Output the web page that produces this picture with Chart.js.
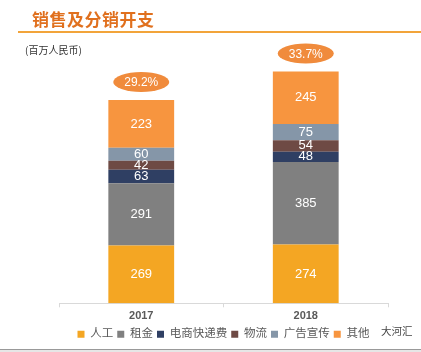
<!DOCTYPE html>
<html>
<head>
<meta charset="utf-8">
<script src="https://cdn.jsdelivr.net/npm/chart.js@4"></script>
<style>
    html, body { margin: 0; padding: 0; background: #fff; }
    #wrap { position: relative; width: 421px; height: 352px; overflow: hidden;
            font-family: "Liberation Sans", Arial, "Noto Sans CJK SC", sans-serif; }
    #titulo { position: absolute; left: 32px; top: 6px; font-size: 17px; font-weight: bold;
              color: #E0701E; font-family: "Noto Sans CJK SC", sans-serif; letter-spacing: 0.5px; }
    #linha { position: absolute; left: 18px; right: 0; top: 31px; height: 2px; background: #F2A43A; }
    #unidade { position: absolute; left: 25px; top: 42px; font-size: 10px; color: #333;
               font-family: "Noto Sans CJK SC", sans-serif; }
    #marca { position: absolute; left: 381px; top: 323px; font-size: 10.5px; color: #444;
             font-family: "Noto Sans CJK SC", sans-serif; }
    #rodape { position: absolute; left: 0; right: 0; top: 349px; height: 3px;
              background: #e6e6e6; border-top: 1px solid #999; }
    canvas { position: absolute; left: 0; top: 0; }
</style>
</head>
<body>
<div id="wrap">
    <canvas id="grafico" width="421" height="352"></canvas>
    <div id="titulo">销售及分销开支</div>
    <div id="linha"></div>
    <div id="unidade">(百万人民币)</div>
    <div id="marca">大河汇</div>
    <div id="rodape"></div>
</div>
<script>
// ===================== DADOS =====================
const anos        = ["2017", "2018"];
const series      = ["人工", "租金", "电商快递费", "物流", "广告宣传", "其他"];
const valRenGong  = [269, 274];
const valZuJin    = [291, 385];
const valKuaiDi   = [63, 48];
const valWuLiu    = [42, 54];
const valGuangGao = [60, 75];
const valQiTa     = [223, 245];
const percentuais = ["29.2%", "33.7%"];

// ===================== CORES =====================
const CORES = ["#F4A623", "#808080", "#2F3F63", "#6E4A44", "#8596A8", "#F7953F"];
const COR_ELIPSE = "#F08B3C";
const FONTE = "'Liberation Sans', Arial, 'Noto Sans CJK SC', sans-serif";

const valores = [valRenGong, valZuJin, valKuaiDi, valWuLiu, valGuangGao, valQiTa];

// rótulos brancos no meio de cada segmento
const rotulos = {
    id: "rotulos",
    afterDatasetsDraw(chart) {
        const ctx = chart.ctx;
        ctx.save();
        ctx.fillStyle = "#fff";
        ctx.font = "13px " + FONTE;
        ctx.textAlign = "center";
        ctx.textBaseline = "middle";
        chart.data.datasets.forEach((ds, i) => {
            chart.getDatasetMeta(i).data.forEach((bar, j) => {
                ctx.fillText(ds.data[j], bar.x, (bar.y + bar.base) / 2);
            });
        });

        // elipse com percentual acima da pilha
        const ultimo = chart.getDatasetMeta(chart.data.datasets.length - 1);
        ultimo.data.forEach((bar, j) => {
            const cy = bar.y - 18;
            ctx.beginPath();
            ctx.ellipse(bar.x, cy, 28, 10, 0, 0, Math.PI * 2);
            ctx.fillStyle = COR_ELIPSE;
            ctx.fill();
            ctx.fillStyle = "#fff";
            ctx.font = "12px " + FONTE;
            ctx.fillText(percentuais[j], bar.x, cy + 1);
        });
        ctx.restore();
    }
};

new Chart(document.getElementById("grafico"), {
    type: "bar",
    data: {
        labels: anos,
        datasets: series.map((nome, i) => ({
            label: nome,
            data: valores[i],
            backgroundColor: CORES[i],
            borderWidth: 0,
            categoryPercentage: 0.4,
            barPercentage: 1,
        })),
    },
    options: {
        responsive: false,
        animation: false,
        layout: { padding: { top: 46, left: 59, right: 33, bottom: 2 } },
        plugins: {
            legend: {
                position: "bottom",
                labels: {
                    boxWidth: 7, boxHeight: 7, padding: 4,
                    color: "#595959",
                    font: { size: 11.5, family: FONTE },
                },
            },
            tooltip: { enabled: false },
        },
        scales: {
            x: {
                stacked: true,
                grid: { display: true, offset: true, drawOnChartArea: false, color: "#d9d9d9", tickLength: 4 },
                border: { color: "#d9d9d9" },
                ticks: { color: "#595959", font: { size: 11, weight: "bold", family: FONTE }, padding: 2 },
            },
            y: { stacked: true, display: false, min: 0, max: 1200 },
        },
    },
    plugins: [rotulos],
});
</script>
</body>
</html>
